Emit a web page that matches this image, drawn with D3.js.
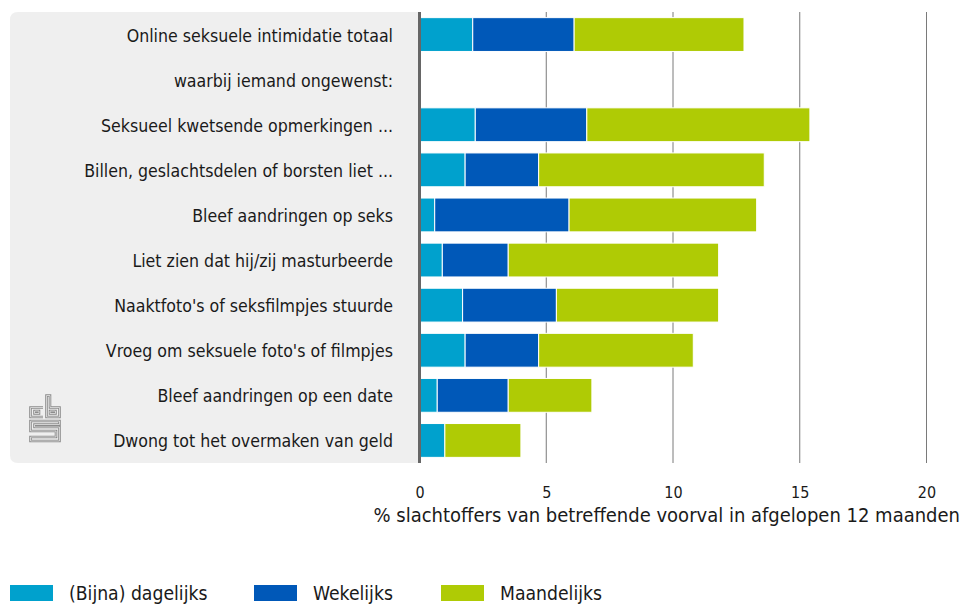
<!DOCTYPE html>
<html>
<head>
<meta charset="utf-8">
<script src="https://cdn.jsdelivr.net/npm/d3@7"></script>
<style>
  html, body { margin: 0; padding: 0; background: #fff; }
  svg { display: block; }
  text { font-family: "DejaVu Sans Condensed", "Liberation Sans Narrow", sans-serif; fill: #1a1a1a; }
</style>
</head>
<body>
<svg id="chart" width="964" height="606"></svg>
<script>
// Categories (top to bottom); the second row is a sub-heading without bars
const categories = [
  "Online seksuele intimidatie totaal",
  "waarbij iemand ongewenst:",
  "Seksueel kwetsende opmerkingen ...",
  "Billen, geslachtsdelen of borsten liet ...",
  "Bleef aandringen op seks",
  "Liet zien dat hij/zij masturbeerde",
  "Naaktfoto's of seksfilmpjes stuurde",
  "Vroeg om seksuele foto's of filmpjes",
  "Bleef aandringen op een date",
  "Dwong tot het overmaken van geld"
];

// Percentage of victims by frequency
const daily   = [2.1, null, 2.2, 1.8, 0.6, 0.9, 1.7, 1.8, 0.7, 1.0];
const weekly  = [4.0, null, 4.4, 2.9, 5.3, 2.6, 3.7, 2.9, 2.8, 0];
const monthly = [6.7, null, 8.8, 8.9, 7.4, 8.3, 6.4, 6.1, 3.3, 3.0];

const seriesNames = ["(Bijna) dagelijks", "Wekelijks", "Maandelijks"];
const seriesColors = ["#00a1cd", "#0058b8", "#afcb05"];
const xTicks = [0, 5, 10, 15, 20];
const xTitle = "% slachtoffers van betreffende voorval in afgelopen 12 maanden";

const svg = d3.select("#chart");

const plotLeft = 419.5, plotRight = 926.5, plotTop = 12, plotBottom = 463;

const x = d3.scaleLinear().domain([0, 20]).range([plotLeft, plotRight]);
const y = d3.scaleBand().domain(categories).range([plotTop, plotBottom])
  .paddingInner(0.25).paddingOuter(0.125);

// Grey label panel, rounded on the left only
const pL = 10, pT = plotTop, pR = plotLeft, pB = plotBottom, r = 8;
svg.append("path")
  .attr("d", `M${pR},${pT} L${pL + r},${pT} Q${pL},${pT} ${pL},${pT + r} L${pL},${pB - r} Q${pL},${pB} ${pL + r},${pB} L${pR},${pB} Z`)
  .attr("fill", "#efefef");

// Vertical gridlines
svg.append("g").selectAll("line")
  .data(xTicks.filter(d => d > 0))
  .join("line")
  .attr("x1", d => x(d)).attr("x2", d => x(d))
  .attr("y1", plotTop).attr("y2", plotBottom)
  .attr("stroke", "#7a7a7a").attr("stroke-width", 1);

// Stacked bars
const rows = categories.map((c, i) => ({ cat: c, values: [daily[i], weekly[i], monthly[i]] }));
const stackKeys = [0, 1, 2];
const stacked = d3.stack()
  .keys(stackKeys)
  .value((d, k) => d.values[k] == null ? 0 : d.values[k])(rows);

svg.append("g").selectAll("g")
  .data(stacked)
  .join("g")
  .attr("fill", (s, i) => seriesColors[i])
  .selectAll("rect")
  .data(s => s.filter(d => d[1] - d[0] > 0))
  .join("rect")
  .attr("x", d => x(d[0]))
  .attr("width", d => x(d[1]) - x(d[0]))
  .attr("y", d => y(d.data.cat))
  .attr("height", y.bandwidth())
  .attr("stroke", "#fff")
  .attr("stroke-width", 1);

// Zero axis line
svg.append("line")
  .attr("x1", x(0)).attr("x2", x(0))
  .attr("y1", plotTop).attr("y2", plotBottom)
  .attr("stroke", "#666").attr("stroke-width", 3);

// Category labels
svg.append("g").selectAll("text")
  .data(categories)
  .join("text")
  .attr("x", 393)
  .attr("y", d => y(d) + y.bandwidth() / 2 + 7)
  .attr("text-anchor", "end")
  .attr("font-size", 17.6)
  .text(d => d);

// Bottom axis tick labels
const xAxis = d3.axisBottom(x).tickValues(xTicks).tickSize(0).tickPadding(0).tickFormat(d3.format("d"));
const axisG = svg.append("g").attr("transform", `translate(0, ${483})`).call(xAxis);
axisG.select(".domain").remove();
axisG.selectAll("text")
  .attr("font-size", 16)
  .attr("dy", "0.95em")
  .style("font-family", "\"DejaVu Sans Condensed\", \"Liberation Sans Narrow\", sans-serif")
  .attr("fill", "#1a1a1a");

// Axis title
svg.append("text")
  .attr("x", 960).attr("y", 522)
  .attr("text-anchor", "end")
  .attr("font-size", 20)
  .text(xTitle);

// Legend
const legendX = [10, 254, 441];
const legend = svg.append("g").selectAll("g")
  .data(seriesNames)
  .join("g")
  .attr("transform", (d, i) => `translate(${legendX[i]}, 585)`);
legend.append("rect")
  .attr("width", 43).attr("height", 16)
  .attr("fill", (d, i) => seriesColors[i]);
legend.append("text")
  .attr("x", 59).attr("y", 15)
  .attr("font-size", 19.2)
  .text(d => d);

// Logo mark in the label panel: outlined strokes (dark edge, light core)
const logoPaths = [
  "M43,407.5 L30.5,407.5 L30.5,417 L43,417",
  "M34.5,411 L39,411 L39,413.5 L34.5,413.5 Z",
  "M46.5,395.5 L46.5,417 L59.5,417 L59.5,407.5 L50,407.5 L50,395.5 Z",
  "M50,411 L55.5,411 L55.5,413.5 L50,413.5 Z",
  "M59.5,421 L30.5,421 L30.5,431 L56,431 L56,437 L30.5,437 L30.5,441 L59.5,441 L59.5,427 L34.5,427 L34.5,424.5 L59.5,424.5 Z"
];
const logo = svg.append("g").attr("fill", "none").attr("stroke-linejoin", "miter");
logo.selectAll("path.edge").data(logoPaths).join("path")
  .attr("class", "edge")
  .attr("d", d => d)
  .attr("stroke", "#8c8c8c").attr("stroke-width", 2.6);
logo.selectAll("path.core").data(logoPaths).join("path")
  .attr("class", "core")
  .attr("d", d => d)
  .attr("stroke", "#e4e4e4").attr("stroke-width", 0.8);
</script>
</body>
</html>
